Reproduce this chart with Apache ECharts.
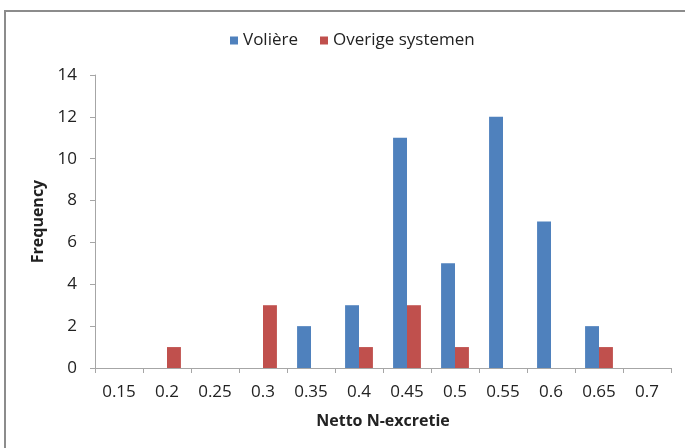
<!DOCTYPE html>
<html>
<head>
<meta charset="utf-8">
<script src="https://cdn.jsdelivr.net/npm/echarts@6/dist/echarts.min.js"></script>
<style>
html,body{margin:0;padding:0;background:#fff;}
#c{width:685px;height:448px;}
</style>
</head>
<body>
<div id="c"></div>
<script>
var categories = ['0.15','0.2','0.25','0.3','0.35','0.4','0.45','0.5','0.55','0.6','0.65','0.7'];
var voliere = [0,0,0,0,2,3,11,5,12,7,2,0];
var overige = [0,1,0,3,0,1,3,1,0,0,1,0];
var yTicks = [0,2,4,6,8,10,12,14];

var chart = echarts.init(document.getElementById('c'), null, {renderer:'canvas'});
var font = 'Open Sans';
chart.setOption({
  animation:false,
  backgroundColor:'#fff',
  graphic:[{
    type:'rect', silent:true,
    shape:{x:5, y:11, width:700, height:460},
    style:{fill:'none', stroke:'#8c8c8c', lineWidth:2}
  }],
  legend:{
    top:27, left:225,
    itemWidth:8, itemHeight:8, itemGap:22,
    icon:'rect',
    textStyle:{fontFamily:font, fontSize:17, color:'#222'},
    data:['Volière','Overige systemen']
  },
  grid:{left:95, right:14, top:75, bottom:80},
  xAxis:{
    type:'category', data:categories,
    name:'Netto N-excretie', nameLocation:'middle', nameGap:45,
    nameTextStyle:{fontFamily:font, fontSize:16, fontWeight:'bold', color:'#222'},
    axisLine:{lineStyle:{color:'#a6a6a6'}},
    axisTick:{show:true, alignWithLabel:false, length:5, lineStyle:{color:'#a6a6a6'}},
    axisLabel:{fontFamily:font, fontSize:17, color:'#222', margin:16, interval:0}
  },
  yAxis:{
    type:'value', min:0, max:14, interval:2,
    name:'Frequency', nameLocation:'middle', nameGap:46,
    nameTextStyle:{fontFamily:font, fontSize:16, fontWeight:'bold', color:'#222'},
    axisLine:{show:true, lineStyle:{color:'#a6a6a6'}},
    axisTick:{show:true, length:5, inside:false, lineStyle:{color:'#a6a6a6'}},
    splitLine:{show:false},
    axisLabel:{fontFamily:font, fontSize:17, color:'#222', margin:18,
      formatter:function(v){return yTicks.indexOf(v)>=0 ? String(v) : '';}}
  },
  series:[
    {name:'Volière', type:'bar', data:voliere, barGap:'0%', barCategoryGap:'42%',
     itemStyle:{color:'#4F81BD'}},
    {name:'Overige systemen', type:'bar', data:overige, barGap:'0%', barCategoryGap:'42%',
     itemStyle:{color:'#C0504D'}}
  ]
});
</script>
</body>
</html>
